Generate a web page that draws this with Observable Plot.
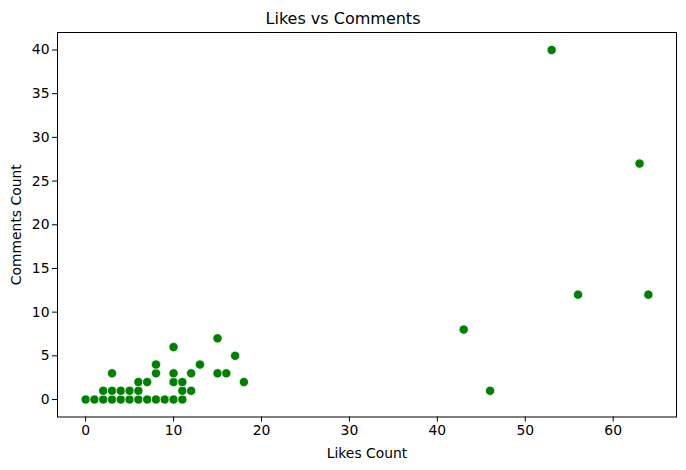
<!DOCTYPE html>
<html>
<head>
<meta charset="utf-8">
<script src="https://cdn.jsdelivr.net/npm/d3@7"></script>
<script src="https://cdn.jsdelivr.net/npm/@observablehq/plot@0.6"></script>
<style>
  html, body { margin: 0; padding: 0; background: #fff; }
  #wrap { width: 686px; height: 470px; font-family: "DejaVu Sans", sans-serif; }
  #title { height: 26px; text-align: center; font-size: 16px; line-height: 16px; padding-top: 11px; box-sizing: border-box; color: #000; }
</style>
</head>
<body>
<div id="wrap">
  <div id="title">Likes vs Comments</div>
  <div id="chart"></div>
</div>
<script>
const likes    = [0,1,2,3,4,5,6,7,8,9,10,11, 2,3,4,5,6,11,12, 6,7,10,11,18, 3,8,10,12,15,16, 8,13, 17, 10, 15, 43,46,53,56,63,64];
const comments = [0,0,0,0,0,0,0,0,0,0,0,0,  1,1,1,1,1,1,1,   2,2,2,2,2,   3,3,3,3,3,3,    4,4,  5,  6,  7,  8,1,40,12,27,12];
const xTicks = [0,10,20,30,40,50,60];
const yTicks = [0,5,10,15,20,25,30,35,40];

const data = likes.map((l, i) => ({likes: l, comments: comments[i]}));

const chart = Plot.plot({
  width: 686,
  height: 444,
  marginTop: 6,
  marginBottom: 53.5,
  marginLeft: 57,
  marginRight: 10,
  style: {fontFamily: "DejaVu Sans, sans-serif", fontSize: "13.9px", color: "#000", background: "#fff"},
  x: {domain: [-3.2, 67.2]},
  y: {domain: [-2, 42]},
  marks: [
    Plot.frame({stroke: "black", strokeWidth: 1}),
    Plot.axisX({ticks: xTicks, tickSize: 5, tickPadding: 3, label: "Likes Count", labelAnchor: "center", labelArrow: "none", labelOffset: 41, fontSize: "13.9px"}),
    Plot.axisY({ticks: yTicks, tickSize: 5, tickPadding: 3, label: "Comments Count", labelAnchor: "center", labelArrow: "none", labelOffset: 46, fontSize: "13.9px"}),
    Plot.dot(data, {x: "likes", y: "comments", r: 4.6, fill: "#008000", stroke: "white", strokeWidth: 0.7})
  ]
});
document.getElementById("chart").appendChild(chart);
</script>
</body>
</html>
